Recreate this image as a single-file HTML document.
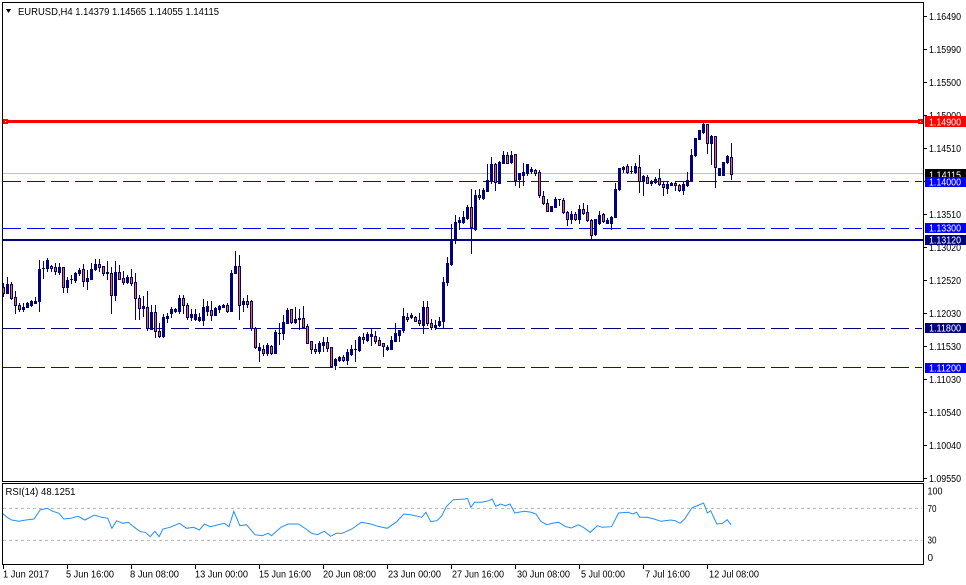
<!DOCTYPE html>
<html>
<head>
<meta charset="utf-8">
<style>
html,body{margin:0;padding:0;background:#fff;}
svg{display:block;}
text{font-family:"Liberation Sans",sans-serif;font-size:10px;fill:#000;}
</style>
</head>
<body>
<svg id="chart" width="966" height="585" viewBox="0 0 966 585" shape-rendering="crispEdges">
<rect x="0" y="0" width="966" height="585" fill="#fff"/>
<defs>
<clipPath id="mainclip"><rect x="3" y="3" width="920" height="478"/></clipPath>
<clipPath id="rsiclip"><rect x="3" y="484" width="920" height="80"/></clipPath>
</defs>

<!-- horizontal level lines -->
<rect x="3" y="173" width="920" height="1" fill="#c0c0c0"/>
<line x1="3" y1="181.5" x2="922" y2="181.5" stroke="#0000ff" stroke-width="1" stroke-dasharray="18,6"/>
<line x1="3" y1="228.5" x2="922" y2="228.5" stroke="#0000ff" stroke-width="1" stroke-dasharray="18,6"/>
<line x1="3" y1="328.5" x2="922" y2="328.5" stroke="#000080" stroke-width="1" stroke-dasharray="18,6"/>
<line x1="3" y1="367.5" x2="922" y2="367.5" stroke="#0000ff" stroke-width="1" stroke-dasharray="18,6"/>
<rect x="3" y="239" width="920" height="2" fill="#000080"/>

<!-- candles -->
<g id="candles" clip-path="url(#mainclip)"></g>

<!-- red resistance line -->
<rect x="3" y="120" width="920" height="3" fill="#ff0000"/>
<rect x="3" y="119" width="5" height="5" fill="#ff0000"/>
<rect x="5" y="121" width="1" height="1" fill="#fff"/>
<rect x="918" y="119" width="5" height="5" fill="#ff0000"/>
<rect x="920" y="121" width="1" height="1" fill="#fff"/>

<!-- panel borders -->
<rect x="2.5" y="2.5" width="921" height="479" fill="none" stroke="#000" stroke-width="1"/>
<rect x="2.5" y="483.5" width="921" height="81" fill="none" stroke="#000" stroke-width="1"/>

<!-- header -->
<polygon points="6,9 11,9 8.5,13" fill="#000"/>
<text x="18" y="15" textLength="201" lengthAdjust="spacingAndGlyphs">EURUSD,H4  1.14379 1.14565 1.14055 1.14115</text>

<!-- price axis ticks and labels -->
<g fill="#000">
<rect x="924" y="16" width="3" height="1"/>
<rect x="924" y="49" width="3" height="1"/>
<rect x="924" y="82" width="3" height="1"/>
<rect x="924" y="115" width="3" height="1"/>
<rect x="924" y="148" width="3" height="1"/>
<rect x="924" y="181" width="3" height="1"/>
<rect x="924" y="214" width="3" height="1"/>
<rect x="924" y="247" width="3" height="1"/>
<rect x="924" y="280" width="3" height="1"/>
<rect x="924" y="313" width="3" height="1"/>
<rect x="924" y="346" width="3" height="1"/>
<rect x="924" y="379" width="3" height="1"/>
<rect x="924" y="412" width="3" height="1"/>
<rect x="924" y="445" width="3" height="1"/>
<rect x="924" y="478" width="3" height="1"/>
</g>
<text x="929" y="20" textLength="32" lengthAdjust="spacingAndGlyphs">1.16490</text>
<text x="929" y="53" textLength="32" lengthAdjust="spacingAndGlyphs">1.15990</text>
<text x="929" y="86" textLength="32" lengthAdjust="spacingAndGlyphs">1.15500</text>
<text x="929" y="119" textLength="32" lengthAdjust="spacingAndGlyphs">1.15000</text>
<text x="929" y="152" textLength="32" lengthAdjust="spacingAndGlyphs">1.14510</text>
<text x="929" y="185" textLength="32" lengthAdjust="spacingAndGlyphs">1.14020</text>
<text x="929" y="218" textLength="32" lengthAdjust="spacingAndGlyphs">1.13510</text>
<text x="929" y="251" textLength="32" lengthAdjust="spacingAndGlyphs">1.13020</text>
<text x="929" y="284" textLength="32" lengthAdjust="spacingAndGlyphs">1.12520</text>
<text x="929" y="317" textLength="32" lengthAdjust="spacingAndGlyphs">1.12030</text>
<text x="929" y="350" textLength="32" lengthAdjust="spacingAndGlyphs">1.11530</text>
<text x="929" y="383" textLength="32" lengthAdjust="spacingAndGlyphs">1.11030</text>
<text x="929" y="416" textLength="32" lengthAdjust="spacingAndGlyphs">1.10540</text>
<text x="929" y="449" textLength="32" lengthAdjust="spacingAndGlyphs">1.10040</text>
<text x="929" y="482" textLength="32" lengthAdjust="spacingAndGlyphs">1.09550</text>

<!-- price label boxes -->
<rect x="925" y="116" width="41" height="11" fill="#ff0000"/>
<text x="929" y="125.5" textLength="32" lengthAdjust="spacingAndGlyphs" style="fill:#fff">1.14900</text>
<rect x="925" y="169" width="41" height="11" fill="#000"/>
<text x="929" y="178.5" textLength="32" lengthAdjust="spacingAndGlyphs" style="fill:#fff">1.14115</text>
<rect x="925" y="177" width="41" height="10" fill="#0000ff"/>
<text x="929" y="185.5" textLength="32" lengthAdjust="spacingAndGlyphs" style="fill:#fff">1.14000</text>
<rect x="925" y="223" width="41" height="10" fill="#0000ff"/>
<text x="929" y="231.5" textLength="32" lengthAdjust="spacingAndGlyphs" style="fill:#fff">1.13300</text>
<rect x="925" y="235" width="41" height="10" fill="#000080"/>
<text x="929" y="243.5" textLength="32" lengthAdjust="spacingAndGlyphs" style="fill:#fff">1.13120</text>
<rect x="925" y="323" width="41" height="10" fill="#000080"/>
<text x="929" y="331.5" textLength="32" lengthAdjust="spacingAndGlyphs" style="fill:#fff">1.11800</text>
<rect x="925" y="363" width="41" height="10" fill="#0000ff"/>
<text x="929" y="371.5" textLength="32" lengthAdjust="spacingAndGlyphs" style="fill:#fff">1.11200</text>

<!-- RSI panel -->
<line x1="3" y1="508.5" x2="922" y2="508.5" stroke="#b8b8b8" stroke-width="1" stroke-dasharray="3,3"/>
<line x1="3" y1="540.5" x2="922" y2="540.5" stroke="#b8b8b8" stroke-width="1" stroke-dasharray="3,3"/>
<g clip-path="url(#rsiclip)"><polyline id="rsi" fill="none" stroke="#1e90ff" stroke-width="1" shape-rendering="auto" points=""/></g>
<text x="5.5" y="495" textLength="70" lengthAdjust="spacingAndGlyphs">RSI(14) 48.1251</text>
<text x="927.5" y="494.5" textLength="15" lengthAdjust="spacingAndGlyphs">100</text>
<text x="927.5" y="512" textLength="9" lengthAdjust="spacingAndGlyphs">70</text>
<text x="927.5" y="543.5" textLength="9" lengthAdjust="spacingAndGlyphs">30</text>
<text x="927.5" y="561">0</text>

<!-- time axis -->
<g fill="#000">
<rect x="3" y="565" width="1" height="4"/>
<rect x="67" y="565" width="1" height="4"/>
<rect x="131" y="565" width="1" height="4"/>
<rect x="195" y="565" width="1" height="4"/>
<rect x="259" y="565" width="1" height="4"/>
<rect x="323" y="565" width="1" height="4"/>
<rect x="387" y="565" width="1" height="4"/>
<rect x="451" y="565" width="1" height="4"/>
<rect x="515" y="565" width="1" height="4"/>
<rect x="579" y="565" width="1" height="4"/>
<rect x="643" y="565" width="1" height="4"/>
<rect x="707" y="565" width="1" height="4"/>
</g>
<text x="3" y="577.5" textLength="46" lengthAdjust="spacingAndGlyphs">1 Jun 2017</text>
<text x="66" y="577.5" textLength="48" lengthAdjust="spacingAndGlyphs">5 Jun 16:00</text>
<text x="130" y="577.5" textLength="49" lengthAdjust="spacingAndGlyphs">8 Jun 08:00</text>
<text x="195" y="577.5" textLength="53" lengthAdjust="spacingAndGlyphs">13 Jun 00:00</text>
<text x="259" y="577.5" textLength="52" lengthAdjust="spacingAndGlyphs">15 Jun 16:00</text>
<text x="323" y="577.5" textLength="53" lengthAdjust="spacingAndGlyphs">20 Jun 08:00</text>
<text x="388" y="577.5" textLength="53" lengthAdjust="spacingAndGlyphs">23 Jun 00:00</text>
<text x="452" y="577.5" textLength="52" lengthAdjust="spacingAndGlyphs">27 Jun 16:00</text>
<text x="517" y="577.5" textLength="53" lengthAdjust="spacingAndGlyphs">30 Jun 08:00</text>
<text x="581" y="577.5" textLength="44" lengthAdjust="spacingAndGlyphs">5 Jul 00:00</text>
<text x="645" y="577.5" textLength="45" lengthAdjust="spacingAndGlyphs">7 Jul 16:00</text>
<text x="709" y="577.5" textLength="50" lengthAdjust="spacingAndGlyphs">12 Jul 08:00</text>
</svg>

<script>
(function(){
var D=[
[287.3,292.7,283.3,296],[292.7,284,277.3,293],[284,297.7,281.7,299],[297.3,305.3,290.7,313.3],[305.3,308.7,302.7,311.3],
[308.7,306.7,302.7,311.3],[307.3,303.3,302,307.3],[304.7,301.3,300,306],[302.7,300.7,296.7,302.7],[301.3,269.3,260,311.3],
[268.3,268.3,260.7,278.3],[268.3,260,258.3,270.7],[266,268.3,264.7,270.7],[267.3,271.3,263.3,274],[272,267.3,263.3,274],
[267.3,287.3,267.3,291.7],[287.3,280,277.3,292],[279.3,279.3,275,283.3],[280,273.3,272,281.7],[273.3,270.3,268.3,274.7],
[269.3,280.7,264.3,286],[280.7,278,270,288.7],[278.7,268.7,263.3,279.3],[268.7,264,259.3,270],[264,267.3,259.3,271.3],
[266,272.7,266,275.3],[273.3,272,260.7,279.3],[273.3,295.3,267.3,312.7],[295.3,272,260.7,300],[272,278.7,264.7,278.7],
[278,282,270.7,284],[282,276.7,274.7,283.3],[276.7,282.7,268.7,284.7],[282,297.7,273.3,318.7],[297.7,307.7,294.7,318.7],
[308,306,296,316],[307.3,328.3,290.7,330],[328.7,312,305.3,329.3],[312,331.3,305.3,336.7],[331.3,336,323.3,337.3],
[336,317.3,314,337.3],[318.3,316,313.3,322],[312.7,309.3,307.3,317.3],[311.3,309.3,308,312],[311.3,298,295.3,312.7],
[298,305.3,295.3,313.3],[305.3,316.7,302.7,319.3],[316.7,314,309.3,320],[319.3,314,308.7,320],[320,317.3,313.3,321.3],
[320,307.3,298.7,325.3],[310.7,306,301.3,314.7],[310,314.7,300.7,320],[314.7,308,306.7,314.7],[308.7,306,304.7,312],
[307.3,304.7,304,307.3],[305.3,310.7,303.3,312],[310.7,272.7,270,311.3],[273.3,266,251.3,273.3],[266,304.7,255.3,319.3],
[304,301.3,298,311.3],[301.3,304,294.7,307.3],[300.7,328.3,300,330],[328.3,346.7,326.7,348.3],[350,346.7,342.7,360.7],
[348.7,352.7,345.3,355.3],[353.3,344.7,343.3,355.3],[346,352.7,344.7,354],[352.7,332,330,353.3],[333.3,333.3,323.3,344],
[333.3,322,314.7,338.7],[322.7,310,308,323.3],[309.3,322,308.7,322.7],[322,319.3,306.7,322.7],[318.7,318,309.3,328.7],
[318,326.7,306,327.3],[326,342.7,324,343.3],[341.3,349.3,340.7,352.7],[348.7,351.3,344,352.7],[351.3,343.3,341.3,352.7],
[344.7,342,337.3,350.7],[342,348,337.3,350.7],[346.7,366,346.7,367.3],[364.7,358.7,358,368.7],[360,357.3,356,361.3],
[356.7,360,355.3,361.3],[360,352,348.7,364],[354,349.3,345.3,355.3],[349.3,349.3,340,361.3],[350,336.7,336,350.7],
[336.7,339.3,332.7,343.3],[340,334,332,341.3],[336,334,328.7,344.7],[336,340.7,330.7,342.7],[340,344.7,337.3,345.3],
[343.3,346,342.7,356],[348.7,346.7,345.3,350],[348.7,340,336,349.3],[340.7,332.7,322.7,341.3],[335.3,330,330,340.7],
[330,316,308,332],[316.7,319.3,313.3,320.7],[317.3,314.7,313.3,318],[317.3,320.7,316,321.3],[320,323.3,313.3,324.7],
[324.7,307.3,301.3,333.3],[307.3,323.3,301.3,324.7],[322.7,327.3,318.7,328.7],[327.3,325.3,320,328.7],[325.3,320.7,317.3,326],
[320.7,282,277.3,326.7],[282,263.3,257.3,285.3],[264,240,224,264.7],[240,222,214.7,243.3],[222,220,217.3,228.7],
[222,216.7,211.3,223.3],[218,206.7,204.7,218.7],[206.7,226.7,188.7,253.3],[228.7,195.3,190,230],[194.7,197.3,189.3,198.7],
[198,190,188,198.7],[190.7,180,164,191.3],[180,164,157.3,182.7],[164,182,162.7,190],[182.7,162,160.7,183.3],
[162.7,154.7,151.3,163.3],[154.7,162.7,152,163.3],[162,154.7,151.3,162.7],[154,180,154,184.7],[179.3,173.3,172.7,186.7],
[174.7,172,163.3,184.7],[173.3,164,164,174.7],[171.3,168.7,166.7,172.7],[170,173.3,168.7,174.7],[172,195.3,170,196.7],
[196,203.3,190.7,204],[203.3,210.7,199.3,211.3],[210.7,206,206,211.3],[206.7,198.7,196.7,207.3],[199.3,199.3,198.7,205.3],
[200,212,198,212.7],[212,219.3,210.7,224.7],[219.3,214,211.3,223.3],[214,218.7,212,220],[218.7,209.3,205.3,222.7],
[209.3,212.7,203.3,214],[212,220,205.3,221.3],[220,234.7,218.7,238.7],[234,219.3,218.7,234.7],[222.7,215.3,210.7,224],
[214,221.3,213.3,222],[222.7,220,218,223.3],[222.7,216.7,216,228.7],[216.7,188.7,183.3,217.3],[188.7,168,168,190],
[169.3,167.3,166,172],[166,172,164,173.3],[171.3,171.3,166,172.7],[172,166,163.3,172.7],[167.3,180.7,155.3,192],
[180.7,176,174.7,195.3],[176.7,182.7,174.7,183.3],[182.7,180.7,180,184.7],[182,178.7,176.7,183.3],[178,184,168.7,185.3],
[184,187.3,182,194.7],[188,184,180.7,193.3],[184.7,182.7,182,185.3],[182.7,185.3,181.3,190],[184.7,190,184,190.7],
[190,184,182,194],[184.7,180,172,186],[180,154.7,149.3,181.3],[155.3,138,138,156],[138.7,130,130,139.3],
[132,124,122,132.7],[124,143.3,124,153.3],[143.3,136,135.3,164],[136,167.3,136,187.3],[174.7,168,168,175.3],
[174.7,162,162,174.7],[162,156,155.3,162.7],[157.3,174,143.3,178.7]
];
var s='';
for(var i=0;i<D.length;i++){
  var d=D[i],x=3+4*i;
  var o=Math.round(d[0]),c=Math.round(d[1]),h=Math.round(d[2]),l=Math.round(d[3]);
  var top=Math.min(o,c),bot=Math.max(o,c);
  h=Math.min(h,top);l=Math.max(l,bot);
  s+='<rect x="'+x+'" y="'+h+'" width="1" height="'+Math.max(1,l-h+1)+'" fill="#000080"/>';
  s+='<rect x="'+(x-1)+'" y="'+top+'" width="3" height="'+Math.max(1,bot-top+1)+'" fill="#000080"/>';
  if(c>o && bot-top>=2){
    s+='<rect x="'+x+'" y="'+(top+1)+'" width="1" height="'+(bot-top-1)+'" fill="#f0642c"/>';
  }
}
document.getElementById('candles').innerHTML=s;

var R=[[5,88],[15,100],[25,108],[40,112],[55,108],[72,105],[85,78],[100,73],[112,82],[125,88],[135,105],[150,103],[165,97],[180,108],[200,93],[215,100],[228,103],[237,133],[247,110],[260,118],[272,115],[283,128],[297,143],[308,145],[318,158],[328,142],[337,158],[345,135],[360,130],[380,118],[395,133],[410,130],[422,138],[433,120],[445,128],[460,123],[475,118],[485,128],[495,82],[508,125],[522,122],[540,152],[555,155],[568,148],[575,155],[583,145],[595,130],[610,120],[632,120],[648,135],[660,148],[672,152],[687,142],[700,157],[712,148],[725,148],[745,135],[765,115],[785,120],[800,127],[820,133],[840,113],[855,90],[870,92],[885,97],[893,100],[902,85],[912,113],[925,110],[935,97],[945,68],[960,47],[985,45],[990,43],[997,70],[1005,55],[1020,55],[1035,50],[1042,45],[1050,67],[1060,60],[1070,65],[1080,60],[1090,87],[1110,82],[1125,85],[1135,90],[1145,112],[1158,122],[1170,118],[1183,115],[1198,128],[1210,132],[1225,122],[1235,130],[1250,145],[1265,125],[1275,130],[1295,128],[1310,87],[1330,85],[1340,90],[1348,85],[1355,100],[1370,100],[1385,105],[1400,112],[1420,108],[1430,110],[1440,118],[1450,105],[1465,72],[1480,63],[1490,57],[1498,87],[1505,80],[1518,120],[1530,118],[1540,107],[1548,122]];
var p=[];
for(var j=0;j<R.length;j++){
  p.push((R[j][0]*731/1548).toFixed(1)+','+(484+R[j][1]/3).toFixed(1));
}
document.getElementById('rsi').setAttribute('points',p.join(' '));
})();
</script>
</body>
</html>
